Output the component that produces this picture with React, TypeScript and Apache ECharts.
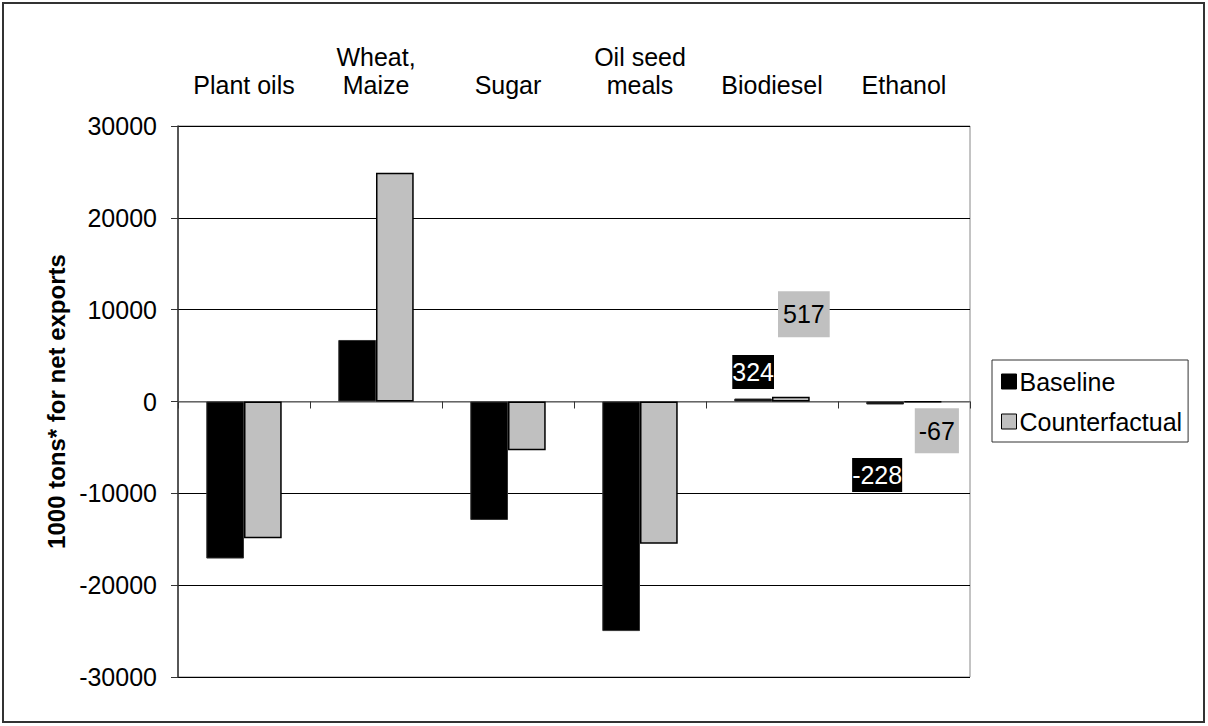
import React, { useEffect, useRef } from "react";
import * as echarts from "echarts";

const categories = ["Plant oils", "Wheat,\nMaize", "Sugar", "Oil seed\nmeals", "Biodiesel", "Ethanol"];
const baseline = [-17100, 6700, -12900, -25000, 324, -228];
const counterfactual = [-14900, 24900, -5300, -15500, 517, -67];
const yTicks = { min: -30000, max: 30000, interval: 10000 };

const FONT = "'Liberation Sans', Arial, sans-serif";
const FS = 25;

export default function App() {
  const ref = useRef<HTMLDivElement>(null);
  useEffect(() => {
    document.body.style.margin = "0";
    const chart = echarts.init(ref.current!, null, { renderer: "svg" });
    const baseData = baseline.map((v, i) => {
      if (i === 4)
        return { value: v, label: { show: true, position: "inside", offset: [0, -28], padding: [5, 0, 4, 0] } };
      if (i === 5)
        return { value: v, label: { show: true, position: "inside", offset: [-8, 72], padding: [5, 0, 4, 0] } };
      return v;
    });
    const cfData = counterfactual.map((v, i) => {
      if (i === 4)
        return { value: v, label: { show: true, position: "inside", offset: [13, -85], padding: [11, 5, 10, 5] } };
      if (i === 5)
        return { value: v, label: { show: true, position: "inside", offset: [14, 29], padding: [10, 4, 10, 4] } };
      return v;
    });
    chart.setOption({
      animation: false,
      textStyle: { fontFamily: FONT },
      grid: {
        left: 178,
        right: 238,
        top: 126,
        bottom: 49,
        show: true,
        borderColor: "#888",
        borderWidth: 1,
        backgroundColor: "transparent",
      },
      legend: {
        orient: "vertical",
        left: 992,
        top: 360,
        padding: [9, 6, 8, 9],
        icon: "rect",
        itemWidth: 15,
        itemHeight: 15,
        itemGap: 15,
        itemStyle: { borderColor: "#000", borderWidth: 1 },
        borderColor: "#333",
        borderWidth: 1,
        textStyle: { fontSize: FS, color: "#000", fontFamily: FONT, padding: [0, 0, 0, -2] },
        data: ["Baseline", "Counterfactual"],
      },
      xAxis: [
        {
          type: "category",
          data: categories,
          position: "top",
          axisLine: { show: false, onZero: false },
          axisTick: { show: false },
          axisLabel: {
            fontSize: FS,
            lineHeight: 28,
            color: "#000",
            margin: 27,
            interval: 0,
            fontFamily: FONT,
          },
        },
        {
          type: "category",
          data: categories,
          position: "bottom",
          axisLine: { show: true, onZero: true, lineStyle: { color: "#888", width: 1.5 } },
          axisTick: { show: true, length: 7, lineStyle: { color: "#333" } },
          axisLabel: { show: false },
        },
      ],
      yAxis: {
        type: "value",
        min: yTicks.min,
        max: yTicks.max,
        interval: yTicks.interval,
        name: "1000 tons* for net exports",
        nameLocation: "middle",
        nameGap: 107,
        nameTextStyle: { fontSize: 24, fontWeight: "bold", color: "#000", fontFamily: FONT },
        axisLine: { show: true, lineStyle: { color: "#333", width: 1.5 } },
        axisTick: { show: true, length: 7, lineStyle: { color: "#333" } },
        axisLabel: {
          fontSize: FS,
          color: "#000",
          margin: 21,
          fontFamily: FONT,
          formatter: (v: number) => String(v),
        },
        splitLine: { show: true, lineStyle: { color: "#000", width: 1 } },
      },
      series: [
        {
          name: "Baseline",
          type: "bar",
          xAxisIndex: 0,
          data: baseData,
          barGap: "0%",
          barCategoryGap: "42.86%",
          barMinHeight: 3,
          itemStyle: { color: "#000", borderColor: "#333", borderWidth: 1 },
          label: {
            show: false,
            fontSize: FS,
            color: "#fff",
            backgroundColor: "#000",
            fontFamily: FONT,
          },
        },
        {
          name: "Counterfactual",
          type: "bar",
          xAxisIndex: 0,
          data: cfData,
          barGap: "0%",
          barCategoryGap: "42.86%",
          itemStyle: { color: "#C0C0C0", borderColor: "#000", borderWidth: 1.5 },
          label: {
            show: false,
            fontSize: FS,
            color: "#000",
            backgroundColor: "#C0C0C0",
            fontFamily: FONT,
          },
        },
      ],
      graphic: [
        {
          type: "rect",
          shape: { x: 3, y: 3, width: 1201, height: 719 },
          style: { fill: "none", stroke: "#333", lineWidth: 2 },
          silent: true,
        },
      ],
    });
    return () => chart.dispose();
  }, []);
  return <div ref={ref} style={{ width: 1208, height: 726 }} />;
}
